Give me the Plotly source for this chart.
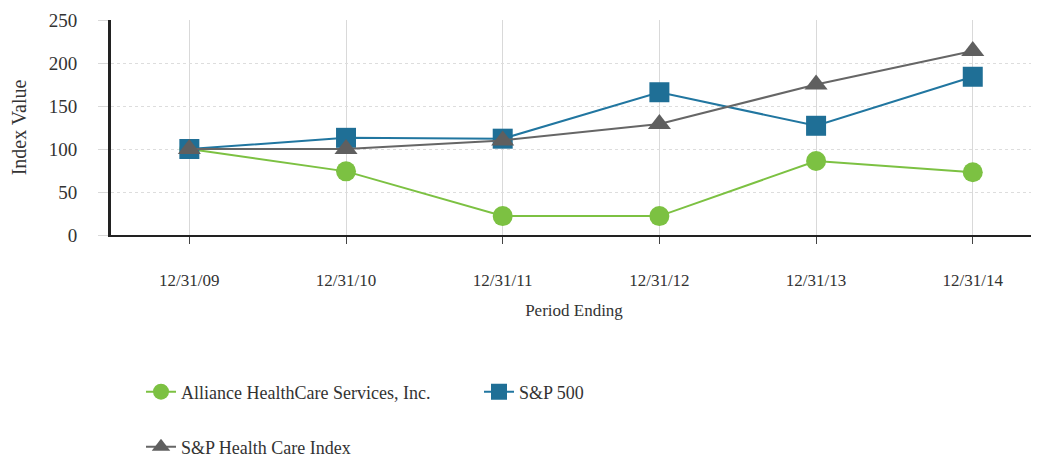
import plotly.graph_objects as go

periods = ["12/31/09", "12/31/10", "12/31/11", "12/31/12", "12/31/13", "12/31/14"]
alliance = [100, 74, 22, 22, 86, 73]
sp500 = [100, 113, 112, 166, 127, 184]
sp_health = [100, 100, 110, 129, 175, 214]

FONT = "Liberation Serif"
TXT = "#333333"
W, H = 1031, 451

fig = go.Figure()
fig.add_trace(go.Scatter(
    x=periods, y=alliance, name="Alliance HealthCare Services, Inc.",
    mode="lines+markers", line=dict(color="#7cc142", width=2),
    marker=dict(symbol="circle", size=20, color="#7cc142"), legend="legend"))
fig.add_trace(go.Scatter(
    x=periods, y=sp500, name="S&P 500",
    mode="lines+markers", line=dict(color="#2176a0", width=2),
    marker=dict(symbol="square", size=20, color="#1f6f96"), legend="legend"))
fig.add_trace(go.Scatter(
    x=periods, y=sp_health, name="S&P Health Care Index",
    mode="lines+markers", line=dict(color="#666666", width=2),
    marker=dict(symbol="triangle-up", size=20, color="#5f5f5f"), legend="legend2"))

fig.update_layout(
    width=W, height=H,
    margin=dict(l=103, r=2, t=10, b=224),
    paper_bgcolor="white", plot_bgcolor="white",
    font=dict(family=FONT, size=16, color=TXT),
    legend=dict(orientation="h", x=133 / W, y=1 - 384 / H, xref="container", yref="container",
                xanchor="left", yanchor="middle", entrywidth=293, entrywidthmode="pixels",
                font=dict(family=FONT, size=18, color=TXT)),
    legend2=dict(orientation="h", x=133 / W, y=1 - 439 / H, xref="container", yref="container",
                 xanchor="left", yanchor="middle",
                 font=dict(family=FONT, size=18, color=TXT)),
)

fig.update_xaxes(
    type="category", range=[-0.5, 5.41],
    showline=True, linecolor="#222222", linewidth=2,
    ticks="outside", ticklen=7, tickcolor="#444444", tickwidth=1,
    showgrid=True, gridcolor="#d9d9d9", gridwidth=1,
    ticklabelstandoff=22, tickfont=dict(size=17),
    title=dict(text="Period Ending", standoff=15, font=dict(family=FONT, size=17, color=TXT)),
)
fig.update_yaxes(
    range=[0, 250], dtick=50,
    showline=True, linecolor="#222222", linewidth=3,
    ticks="outside", ticklen=10, tickcolor="#d9d9d9",
    showgrid=True, gridcolor="#dddddd", gridwidth=1, griddash="dot",
    zeroline=False, ticklabelstandoff=17, tickfont=dict(size=19),
    ticklabeloverflow="allow",
    title=dict(text="Index Value", standoff=18, font=dict(family=FONT, size=20, color=TXT)),
)

fig.write_html("out.html")
